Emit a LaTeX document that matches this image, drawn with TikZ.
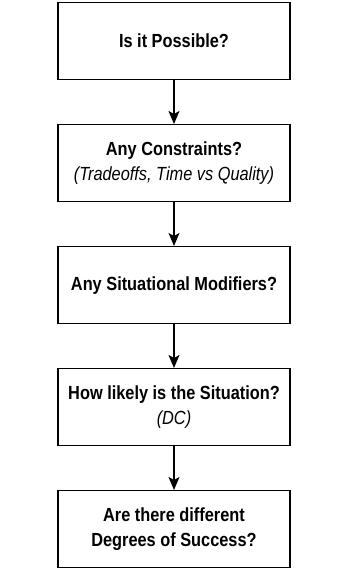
\documentclass[tikz,border=0pt]{standalone}
\usepackage{fontspec}
\setmainfont{Liberation Sans}[FakeStretch=0.86]
\usetikzlibrary{arrows.meta,positioning}

\begin{document}
\begin{tikzpicture}[->,>={Stealth[width=11pt,length=13pt,inset=3pt]},line width=1.4pt,
    node distance=43.6pt,
    question/.style={draw,rectangle,minimum width=232pt,minimum height=77pt,
      inner sep=0pt,align=center,font=\fontsize{19}{25}\selectfont\bfseries}]
  \useasboundingbox (0pt,0pt) rectangle (348pt,-572pt);

  \node[question,anchor=north] (possible) at (174pt,-2pt) {Is it Possible?};
  \node[question] (constraints) [below=of possible]
    {Any Constraints?\\{\mdseries\itshape (Tradeoffs, Time vs Quality)}};
  \node[question] (modifiers) [below=of constraints] {Any Situational Modifiers?};
  \node[question] (likely) [below=of modifiers]
    {How likely is the Situation?\\{\mdseries\itshape (DC)}};
  \node[question] (degrees) [below=of likely]
    {Are there different\\Degrees of Success?};

  % one question leads to the next
  \path (possible) edge (constraints)
        (constraints) edge (modifiers)
        (modifiers) edge (likely)
        (likely) edge (degrees);
\end{tikzpicture}
\end{document}
